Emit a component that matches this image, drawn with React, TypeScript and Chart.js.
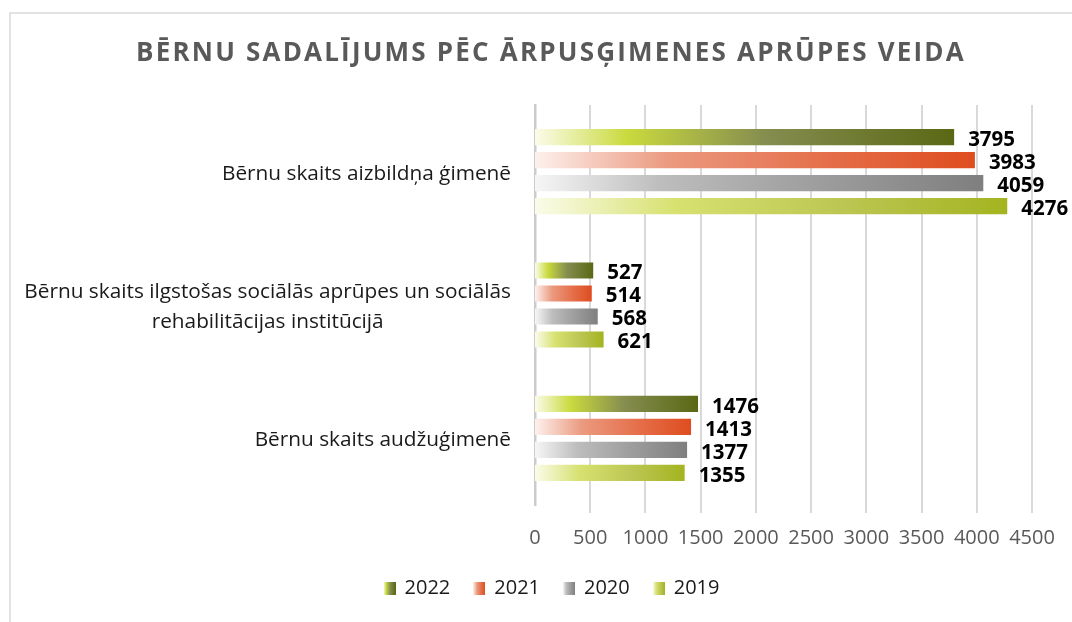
import React, { useEffect, useRef } from "react";
import { Chart, registerables } from "chart.js";

Chart.register(...registerables);

const TITLE = "BĒRNU SADALĪJUMS PĒC ĀRPUSĢIMENES APRŪPES VEIDA";
const categories: (string | string[])[] = [
  "Bērnu skaits aizbildņa ģimenē",
  ["Bērnu skaits ilgstošas sociālās aprūpes un sociālās", "rehabilitācijas institūcijā"],
  "Bērnu skaits audžuģimenē",
];
const seriesNames = ["2022", "2021", "2020", "2019"];
const values2022 = [3795, 527, 1476];
const values2021 = [3983, 514, 1413];
const values2020 = [4059, 568, 1377];
const values2019 = [4276, 621, 1355];
const xTicksMax = 4500;
const xTickStep = 500;

const gradientStops: [number, string][][] = [
  [[0, "#fbfce9"], [0.22, "#c9da3e"], [0.55, "#858d4f"], [1, "#5a6814"]],
  [[0, "#fdf1ed"], [0.3, "#eb9a80"], [0.65, "#e5704c"], [1, "#de4d1f"]],
  [[0, "#f6f6f6"], [0.28, "#bdbdbd"], [0.6, "#a0a0a0"], [1, "#7f7f7f"]],
  [[0, "#fbfcea"], [0.3, "#d6e16f"], [0.65, "#bcc653"], [1, "#a3b420"]],
];

const FONT = '"Open Sans", "Noto Sans", sans-serif';

function makeGradient(ctx: CanvasRenderingContext2D, x0: number, x1: number, stops: [number, string][]) {
  const g = ctx.createLinearGradient(x0, 0, Math.max(x1, x0 + 1), 0);
  stops.forEach(([o, c]) => g.addColorStop(o, c));
  return g;
}

function legendImage(stops: [number, string][]) {
  const c = document.createElement("canvas");
  c.width = 12;
  c.height = 13;
  const cx = c.getContext("2d")!;
  cx.fillStyle = makeGradient(cx, 0, 12, stops);
  cx.fillRect(0, 0, 12, 13);
  return c;
}

const framePlugin = {
  id: "frame",
  beforeDraw(chart: any) {
    const ctx = chart.ctx;
    ctx.save();
    ctx.strokeStyle = "#d9d9d9";
    ctx.lineWidth = 1.5;
    ctx.beginPath();
    ctx.moveTo(10, chart.height);
    ctx.lineTo(10, 13);
    ctx.lineTo(chart.width, 13);
    ctx.stroke();
    ctx.restore();
  },
};

// vertical gridlines at the x scale's tick positions, drawn under the bars
const gridPlugin = {
  id: "valueGrid",
  beforeDatasetsDraw(chart: any) {
    const ctx = chart.ctx;
    const xs = chart.scales.x;
    const { top, bottom } = chart.chartArea;
    ctx.save();
    ctx.strokeStyle = "#d9d9d9";
    ctx.lineWidth = 2;
    xs.ticks.forEach((t: any) => {
      const x = Math.round(xs.getPixelForValue(t.value));
      if (t.value === 0) return;
      ctx.beginPath();
      ctx.moveTo(x, top);
      ctx.lineTo(x, bottom + 8);
      ctx.stroke();
    });
    ctx.restore();
  },
};

const titlePlugin = {
  id: "customTitle",
  afterDraw(chart: any) {
    const ctx = chart.ctx;
    ctx.save();
    ctx.font = `bold 26px ${FONT}`;
    ctx.fillStyle = "#595959";
    (ctx as any).letterSpacing = "2.2px";
    ctx.textAlign = "center";
    ctx.textBaseline = "middle";
    ctx.fillText(TITLE, 551, 54);
    ctx.restore();
  },
};

const categoryLabelPlugin = {
  id: "categoryLabels",
  afterDraw(chart: any) {
    const ctx = chart.ctx;
    const yScale = chart.scales.y;
    const right = 511;
    ctx.save();
    ctx.font = `20.8px ${FONT}`;
    ctx.fillStyle = "#1a1a1a";
    ctx.textAlign = "center";
    ctx.textBaseline = "middle";
    categories.forEach((lab, i) => {
      const lines = Array.isArray(lab) ? lab : [lab];
      const w = Math.max(...lines.map((l) => ctx.measureText(l).width));
      const cx = right - w / 2;
      const cy = yScale.getPixelForTick(i);
      const lh = 30;
      lines.forEach((l, j) => {
        ctx.fillText(l, cx, cy + (j - (lines.length - 1) / 2) * lh + 2);
      });
    });
    ctx.restore();
  },
};

const dataLabelPlugin = {
  id: "dataLabels",
  afterDatasetsDraw(chart: any) {
    const ctx = chart.ctx;
    ctx.save();
    ctx.font = `bold 20.5px ${FONT}`;
    ctx.fillStyle = "#000000";
    ctx.textAlign = "left";
    ctx.textBaseline = "middle";
    chart.data.datasets.forEach((ds: any, di: number) => {
      const meta = chart.getDatasetMeta(di);
      meta.data.forEach((el: any, i: number) => {
        ctx.fillText(String(ds.data[i]), el.x + 14, el.y + 3);
      });
    });
    ctx.restore();
  },
};

export default function App() {
  const ref = useRef<HTMLCanvasElement>(null);
  useEffect(() => {
    const seriesValues = [values2022, values2021, values2020, values2019];
    const images = gradientStops.map((s) => legendImage(s));
    const chart = new Chart(ref.current!, {
      type: "bar",
      data: {
        labels: categories as any,
        datasets: seriesNames.map((name, k) => ({
          label: name,
          data: seriesValues[k],
          backgroundColor: (c: any) => {
            const ch = c.chart;
            if (!ch.chartArea || c.type !== "data") return gradientStops[k][3][1];
            const xs = ch.scales.x;
            return makeGradient(ch.ctx, xs.getPixelForValue(0), xs.getPixelForValue(c.raw), gradientStops[k]);
          },
          borderWidth: 0,
          categoryPercentage: 0.69,
          barPercentage: 0.7,
        })),
      },
      options: {
        indexAxis: "y",
        responsive: false,
        animation: false,
        layout: { padding: { left: 72, right: 40, top: 105, bottom: 14 } },
        scales: {
          x: {
            min: 0,
            max: xTicksMax,
            ticks: {
              stepSize: xTickStep,
              color: "#595959",
              font: { family: FONT, size: 20 },
              padding: 12,
              maxRotation: 0,
              callback: (v: any) => String(v),
            },
            grid: { display: false, drawTicks: true, tickLength: 9 },
            border: { display: false },
            afterFit: (s: any) => {
              const lh = s.chart.legend ? s.chart.legend.height : 40;
              s.height = 622 - 505 - lh - 14;
            },
          },
          y: {
            ticks: { color: "transparent", font: { family: FONT, size: 20 } },
            grid: { display: false },
            border: { display: true, color: "#cccccc", width: 2.5 },
            afterFit: (s: any) => {
              s.width = 535 - 72;
            },
          },
        },
        plugins: {
          title: { display: false },
          tooltip: { enabled: false },
          legend: {
            position: "bottom",
            labels: {
              usePointStyle: true,
              boxWidth: 10,
              padding: 24,
              color: "#1a1a1a",
              font: { family: FONT, size: 20 },
              generateLabels: (ch: any) =>
                ch.data.datasets.map((ds: any, i: number) => ({
                  text: ds.label,
                  pointStyle: images[i],
                  fillStyle: "transparent",
                  strokeStyle: "transparent",
                  lineWidth: 0,
                  hidden: false,
                  datasetIndex: i,
                  fontColor: "#1a1a1a",
                })),
            },
          },
        },
      },
      plugins: [framePlugin, gridPlugin, titlePlugin, categoryLabelPlugin, dataLabelPlugin],
    } as any);
    return () => chart.destroy();
  }, []);
  return (
    <div style={{ position: "absolute", left: 0, top: 0, width: 1072, height: 622, background: "#fff" }}>
      <canvas ref={ref} width={1072} height={622} style={{ display: "block", width: 1072, height: 622 }} />
    </div>
  );
}
